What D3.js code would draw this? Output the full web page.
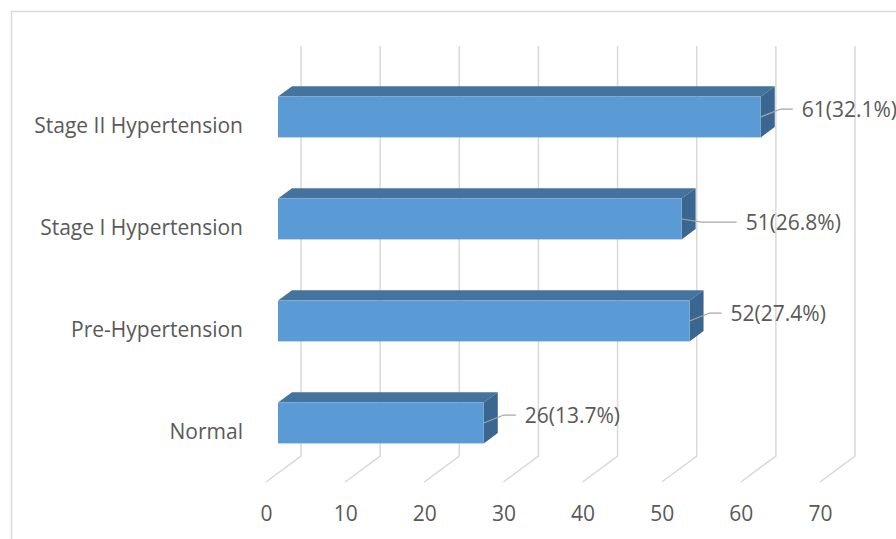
<!DOCTYPE html>
<html>
<head>
<meta charset="utf-8">
<script src="https://cdn.jsdelivr.net/npm/d3@7"></script>
<style>
  body { margin: 0; background: #fff; }
  svg { display: block; }
</style>
</head>
<body>
<svg id="chart" width="896" height="539"></svg>
<script>
const categories = ['Stage II Hypertension', 'Stage I Hypertension', 'Pre-Hypertension', 'Normal'];
const counts = [61, 51, 52, 26];
const percents = ['32.1%', '26.8%', '27.4%', '13.7%'];
const ticks = [0, 10, 20, 30, 40, 50, 60, 70];

const FONT = '"Open Sans", sans-serif';
const FONT_SIZE = 21;
const TEXT = '#595959';
const GRID = '#d9d9d9';
const FRONT = '#5b9bd5';
const TOP = '#44739e';
const SIDE = '#3a6690';

// floor depth vector (front edge -> back wall)
const DEPTH = { dx: 35, dy: -26 };
const BAR_T0 = 0.343; // bar front face, fraction of depth
const BAR_T1 = 0.743; // bar back face

const svg = d3.select('#chart');

// x on the back wall
const x = d3.scaleLinear().domain([0, 70]).range([301, 855]);
const xFloor = x.copy().range(x.range().map((d) => d - DEPTH.dx));
const xBar = x.copy().range(x.range().map((d) => d - DEPTH.dx * (1 - BAR_T0)));

const y = d3
  .scaleBand()
  .domain(categories)
  .range([66, 474])
  .paddingInner(0.6)
  .paddingOuter(0.3);

const wallTop = 46;
const wallBottom = 456;

// outer frame (clipped by the window on the right / bottom)
svg
  .append('path')
  .attr('d', 'M11.5,539 V11.5 H896')
  .attr('fill', 'none')
  .attr('stroke', GRID)
  .attr('stroke-width', 1.5);

// back wall gridlines + floor lines
const grid = svg.append('g').attr('stroke', GRID).attr('stroke-width', 1.5).attr('fill', 'none');
grid
  .selectAll('path')
  .data(ticks)
  .join('path')
  .attr(
    'd',
    (d) =>
      `M${x(d)},${wallTop} V${wallBottom} L${x(d) - DEPTH.dx},${wallBottom - DEPTH.dy}`,
  );

// bars
const rows = categories.map((c, i) => ({ cat: c, value: counts[i], pct: percents[i] }));
const bdx = DEPTH.dx * (BAR_T1 - BAR_T0);
const bdy = DEPTH.dy * (BAR_T1 - BAR_T0);
const h = y.bandwidth();

const bars = svg.append('g').selectAll('g').data(rows).join('g');

bars
  .append('path')
  .attr('fill', TOP)
  .attr('d', (d) => {
    const x0 = xBar(0), x1 = xBar(d.value), y0 = y(d.cat);
    return `M${x0},${y0} L${x1},${y0} L${x1 + bdx},${y0 + bdy} L${x0 + bdx},${y0 + bdy} Z`;
  });

bars
  .append('path')
  .attr('fill', SIDE)
  .attr('d', (d) => {
    const x1 = xBar(d.value), y0 = y(d.cat);
    return `M${x1},${y0} L${x1 + bdx},${y0 + bdy} L${x1 + bdx},${y0 + bdy + h} L${x1},${y0 + h} Z`;
  });

bars
  .append('rect')
  .attr('fill', FRONT)
  .attr('x', xBar(0))
  .attr('y', (d) => y(d.cat))
  .attr('width', (d) => xBar(d.value) - xBar(0))
  .attr('height', h);

// data labels with leader lines (Excel nudges one of them further out)
const labelNudge = { 'Stage I Hypertension': [23, 11] };
rows.forEach((d) => {
  const [nx, ny] = labelNudge[d.cat] || [0, 0];
  d.xe = xBar(d.value);
  d.cy = y(d.cat) + h / 2;
  d.tx = d.xe + 41 + nx;
  d.ty = d.cy - 8 + ny;
});

svg
  .append('g')
  .attr('fill', 'none')
  .attr('stroke', '#a6a6a6')
  .attr('stroke-width', 1.25)
  .selectAll('path')
  .data(rows)
  .join('path')
  .attr('d', (d) => {
    const ex = Math.min(d.xe + 20, d.tx - 12);
    return `M${d.xe},${d.cy} L${ex},${d.ty} L${d.tx - 9},${d.ty}`;
  });

svg
  .append('g')
  .selectAll('text')
  .data(rows)
  .join('text')
  .attr('x', (d) => d.tx)
  .attr('y', (d) => d.ty + 7.5)
  .attr('font-family', FONT)
  .attr('font-size', FONT_SIZE)
  .attr('fill', TEXT)
  .text((d) => `${d.value}(${d.pct})`);

// category labels
svg
  .append('g')
  .selectAll('text')
  .data(categories)
  .join('text')
  .attr('x', 243)
  .attr('y', (d) => y(d) + h / 2 + 16)
  .attr('text-anchor', 'end')
  .attr('font-family', FONT)
  .attr('font-size', FONT_SIZE)
  .attr('fill', TEXT)
  .text((d) => d);

// value axis along the front edge of the floor
const axis = svg
  .append('g')
  .attr('transform', `translate(0,${wallBottom - DEPTH.dy})`)
  .call(d3.axisBottom(xFloor).tickValues(ticks).tickSize(0).tickPadding(0));

axis.select('.domain').remove();
axis
  .selectAll('text')
  .attr('dy', null)
  .attr('y', 38.5)
  .attr('font-family', FONT)
  .attr('font-size', FONT_SIZE)
  .attr('fill', TEXT);
</script>
</body>
</html>
